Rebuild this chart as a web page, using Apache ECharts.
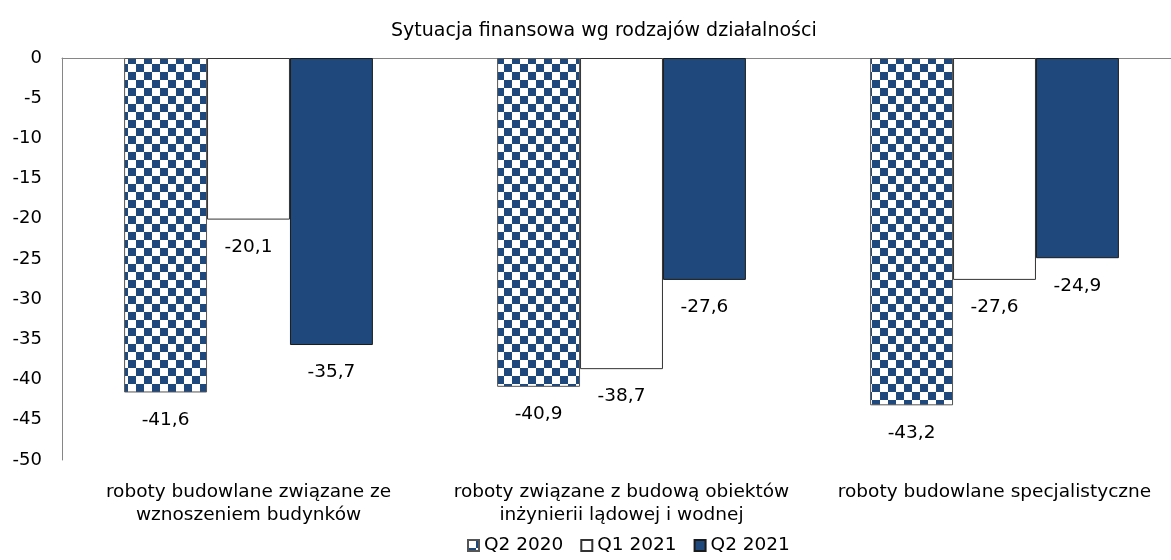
<!DOCTYPE html>
<html>
<head>
<meta charset="utf-8">
<script src="https://cdn.jsdelivr.net/npm/echarts@6/dist/echarts.min.js"></script>
<style>
  html, body { margin: 0; padding: 0; background: #fff; }
  #main { width: 1171px; height: 560px; }
</style>
</head>
<body>
<div id="main"></div>
<script>
const categories = [
  'roboty budowlane związane ze\nwznoszeniem budynków',
  'roboty związane z budową obiektów\ninżynierii lądowej i wodnej',
  'roboty budowlane specjalistyczne'
];
const seriesNames = ['Q2 2020', 'Q1 2021', 'Q2 2021'];
const q2_2020 = [-41.6, -40.9, -43.2];
const q1_2021 = [-20.1, -38.7, -27.6];
const q2_2021 = [-35.7, -27.6, -24.9];
const yTicks = { min: -50, max: 0, interval: 5 };

const BLUE = '#1F497D';
const FONT = 'DejaVu Sans';

// checker pattern for Q2 2020
const CELL = 8;
const pat = document.createElement('canvas');
pat.width = CELL * 2; pat.height = CELL * 2;
const pc = pat.getContext('2d');
pc.fillStyle = '#fff';
pc.fillRect(0, 0, CELL * 2, CELL * 2);
pc.fillStyle = BLUE;
pc.fillRect(CELL, 0, CELL, CELL);
pc.fillRect(0, CELL, CELL, CELL);

const chartDom = document.getElementById('main');
const myChart = echarts.init(chartDom, null, { renderer: 'canvas' });

const fmt = p => String(p.value).replace('.', ',');
const barLabel = {
  show: true,
  position: 'bottom',
  distance: 18,
  formatter: fmt,
  color: '#000',
  fontFamily: FONT,
  fontSize: 18.5
};

myChart.setOption({
  animation: false,
  backgroundColor: '#fff',
  textStyle: { fontFamily: FONT },
  title: {
    text: 'Sytuacja finansowa wg rodzajów działalności',
    left: 386,
    top: 17,
    textStyle: { fontFamily: FONT, fontSize: 19, fontWeight: 'normal', color: '#000' }
  },
  legend: {
    data: seriesNames,
    left: 462,
    top: 531,
    itemWidth: 11,
    itemHeight: 11,
    itemGap: 17,
    icon: 'rect',
    textStyle: { fontFamily: FONT, fontSize: 18.5, color: '#000' }
  },
  grid: {
    left: 62,
    right: -10,
    top: 58,
    bottom: 100,
    outerBoundsMode: 'none'
  },
  xAxis: [
    {
      type: 'category',
      data: categories,
      position: 'bottom',
      axisLine: { show: false },
      axisTick: { show: false },
      axisLabel: {
        interval: 0,
        color: '#000',
        fontFamily: FONT,
        fontSize: 18.5,
        lineHeight: 23.5,
        margin: 20
      }
    },
    {
      type: 'category',
      data: categories,
      position: 'top',
      axisLine: { show: true, lineStyle: { color: '#868686', width: 1 } },
      axisTick: { show: false },
      axisLabel: { show: false }
    }
  ],
  yAxis: {
    type: 'value',
    min: yTicks.min,
    max: yTicks.max,
    interval: yTicks.interval,
    axisLine: { show: true, lineStyle: { color: '#868686' } },
    axisTick: { show: false },
    splitLine: { show: false },
    axisLabel: { color: '#000', fontFamily: FONT, fontSize: 18, margin: 20 }
  },
  series: [
    {
      name: seriesNames[0],
      type: 'bar',
      data: q2_2020,
      barGap: '0%',
      barCategoryGap: '33.3%',
      itemStyle: { color: { image: pat, repeat: 'repeat' }, borderColor: '#555', borderWidth: 1 },
      label: barLabel
    },
    {
      name: seriesNames[1],
      type: 'bar',
      data: q1_2021,
      itemStyle: { color: '#fff', borderColor: '#333', borderWidth: 1 },
      label: barLabel
    },
    {
      name: seriesNames[2],
      type: 'bar',
      data: q2_2021,
      itemStyle: { color: BLUE, borderColor: '#1a1a1a', borderWidth: 1 },
      label: barLabel
    }
  ]
});
</script>
</body>
</html>
